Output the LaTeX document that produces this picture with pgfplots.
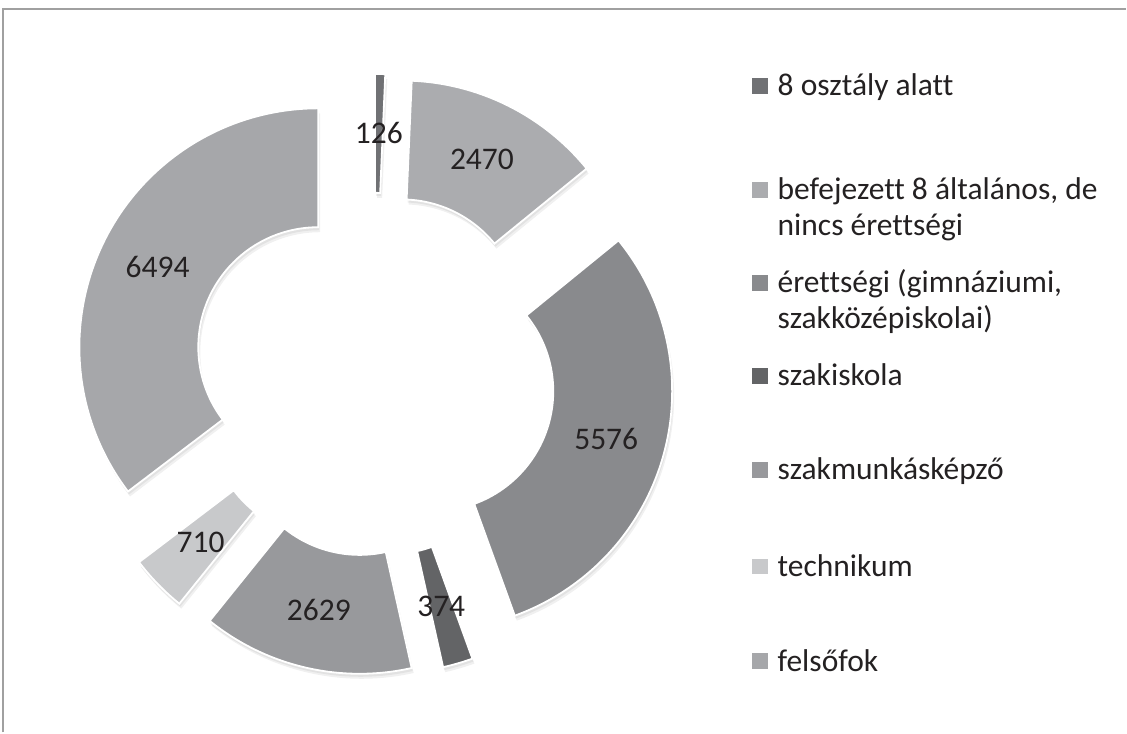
\documentclass[border=0pt]{standalone}
\usepackage{pgfplots}
\pgfplotsset{compat=1.18}
\usepackage{fontspec}
\setmainfont[Ligatures={NoCommon}]{Carlito}
\definecolor{c1}{RGB}{112,113,116}
\definecolor{c2}{RGB}{171,172,175}
\definecolor{c3}{RGB}{137,138,141}
\definecolor{c4}{RGB}{99,100,102}
\definecolor{c5}{RGB}{152,153,156}
\definecolor{c6}{RGB}{200,201,203}
\definecolor{c7}{RGB}{166,167,170}
\definecolor{txt}{RGB}{36,33,34}
\definecolor{framegray}{RGB}{160,160,160}
% data
\def\valA{126}\def\valB{2470}\def\valC{5576}\def\valD{374}\def\valE{2629}\def\valF{710}\def\valG{6494}
% geometry (axis units = pixels)
\def\cx{374}\def\cy{358}\def\dd{62}
\def\Ro{119.5pt}\def\Ri{60pt}\def\Rd{59.5pt}\def\Rm{89.75pt}
\pgfmathsetmacro{\totalv}{\valA/100+\valB/100+\valC/100+\valD/100+\valE/100+\valF/100+\valG/100}
\gdef\cum{0}% cumulative fraction
\newcommand{\prep}[2]{% id, value
  \pgfmathsetmacro{\fr}{(#2/100)/\totalv}%
  \pgfmathsetmacro{\aS}{90-360*\cum}%
  \pgfmathsetmacro{\aE}{90-360*(\cum+\fr)}%
  \pgfmathsetmacro{\aM}{(\aS+\aE)/2}%
  \pgfmathsetmacro{\sx}{\cx+\dd*cos(\aM)}%
  \pgfmathsetmacro{\sy}{\cy+\dd*sin(\aM)}%
  \expandafter\xdef\csname aS#1\endcsname{\aS}%
  \expandafter\xdef\csname aE#1\endcsname{\aE}%
  \expandafter\xdef\csname aM#1\endcsname{\aM}%
  \expandafter\xdef\csname sx#1\endcsname{\sx}%
  \expandafter\xdef\csname sy#1\endcsname{\sy}%
  \pgfmathsetmacro{\newcum}{\cum+\fr}%
  \xdef\cum{\newcum}%
}
\prep{A}{\valA}\prep{B}{\valB}\prep{C}{\valC}\prep{D}{\valD}\prep{E}{\valE}\prep{F}{\valF}\prep{G}{\valG}
\newcommand{\seg}[3]{% id, colour, label
  \edef\aS{\csname aS#1\endcsname}\edef\aE{\csname aE#1\endcsname}\edef\aM{\csname aM#1\endcsname}%
  \edef\sx{\csname sx#1\endcsname}\edef\sy{\csname sy#1\endcsname}%
  \fill[black, opacity=0.06] (axis cs:\sx+2,\sy-5) ++(\aS:\Ro) arc[start angle=\aS, end angle=\aE, radius=\Ro] -- ++(\aE+180:\Rd) arc[start angle=\aE, end angle=\aS, radius=\Ri] -- cycle;
  \fill[black, opacity=0.06] (axis cs:\sx+1,\sy-3) ++(\aS:\Ro) arc[start angle=\aS, end angle=\aE, radius=\Ro] -- ++(\aE+180:\Rd) arc[start angle=\aE, end angle=\aS, radius=\Ri] -- cycle;
  \filldraw[fill=#2, draw=white, line width=0.9pt] (axis cs:\sx,\sy) ++(\aS:\Ro) arc[start angle=\aS, end angle=\aE, radius=\Ro] -- ++(\aE+180:\Rd) arc[start angle=\aE, end angle=\aS, radius=\Ri] -- cycle;
  \path (axis cs:\sx,\sy) ++(\aM:\Rm) node[text=txt, inner sep=0pt, font=\fontsize{15.75}{19}\selectfont] {#3};
}
\newcommand{\legsq}[2]{% y centre (px from top), colour
  \fill[#2] (axis cs:753,733-#1-8) rectangle (axis cs:769,733-#1+8);
}
\newcommand{\legtx}[2]{% y centre (px from top), text
  \node[anchor=base west, inner sep=0pt, text=txt, font=\fontsize{15.75}{19}\selectfont] at (axis cs:778,733-#1-10) {#2};
}
\begin{document}
\begin{tikzpicture}
\begin{axis}[x=0.5pt, y=0.5pt, xmin=0, xmax=1127, ymin=0, ymax=733,
  hide axis, clip=false]
\path (axis cs:0,0) rectangle (axis cs:1127,733);
\draw[framegray, line width=1pt] (axis cs:3,0) -- (axis cs:3,724) -- (axis cs:1127,724);
\pgfplotsextra{\seg{A}{c1}{126}}
\pgfplotsextra{\seg{B}{c2}{2470}}
\pgfplotsextra{\seg{C}{c3}{5576}}
\pgfplotsextra{\seg{D}{c4}{374}}
\pgfplotsextra{\seg{E}{c5}{2629}}
\pgfplotsextra{\seg{F}{c6}{710}}
\pgfplotsextra{\seg{G}{c7}{6494}}
% legend
\legsq{86}{c1}\legtx{86}{8 osztály alatt}
\legsq{190}{c2}\legtx{190}{befejezett 8 általános, de}\legtx{226}{nincs érettségi}
\legsq{283}{c3}\legtx{283}{érettségi (gimnáziumi,}\legtx{319}{szakközépiskolai)}
\legsq{376}{c4}\legtx{376}{szakiskola}
\legsq{470}{c5}\legtx{470}{szakmunkásképző}
\legsq{567}{c6}\legtx{567}{technikum}
\legsq{662}{c7}\legtx{662}{felsőfok}
\end{axis}
\end{tikzpicture}
\end{document}
